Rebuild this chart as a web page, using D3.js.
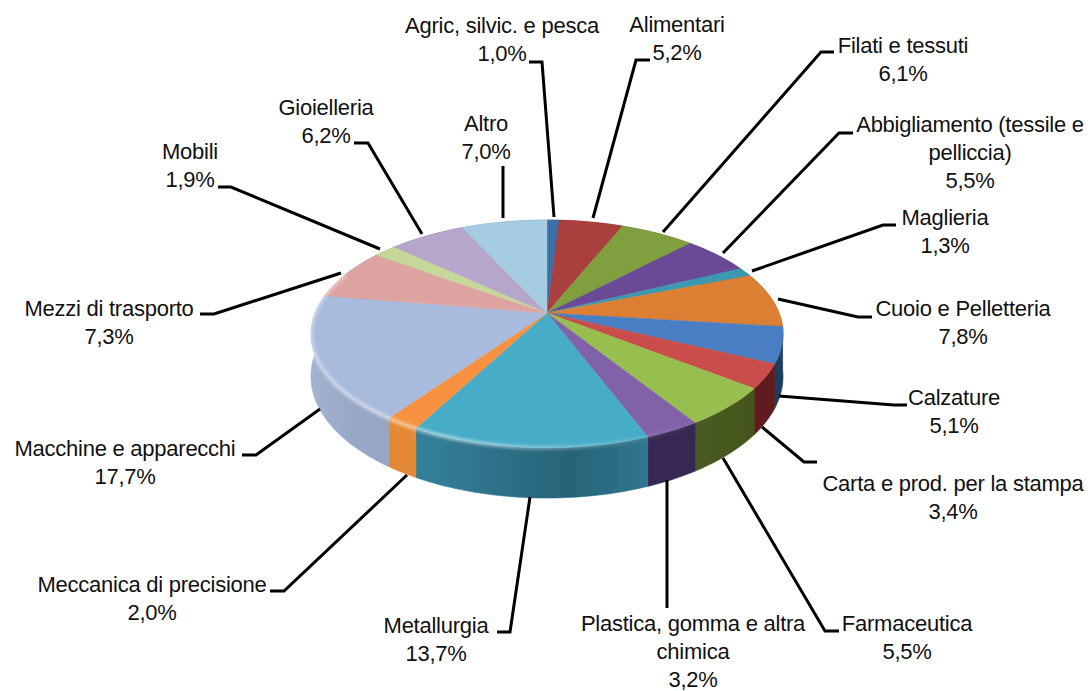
<!DOCTYPE html>
<html><head><meta charset="utf-8">
<style>html,body{margin:0;padding:0;background:#fff}svg{display:block}
text{font-family:"Liberation Sans",Arial,sans-serif;font-size:22px;fill:#111}</style>
<script src="https://cdnjs.cloudflare.com/ajax/libs/d3/7.8.5/d3.min.js"></script>
</head><body><svg id="c" width="1092" height="691"></svg>
<script>
const categories=["Agric, silvic. e pesca","Alimentari","Filati e tessuti","Abbigliamento (tessile e|pelliccia)","Maglieria","Cuoio e Pelletteria","Calzature","Carta e prod. per la stampa","Farmaceutica","Plastica, gomma e altra|chimica","Metallurgia","Meccanica di precisione","Macchine e apparecchi","Mezzi di trasporto","Mobili","Gioielleria","Altro"];
const values=[1.0,5.2,6.1,5.5,1.3,7.8,5.1,3.4,5.5,3.2,13.7,2.0,17.7,7.3,1.9,6.2,7.0];
const topColors=["#3A6FA8","#A93F3D","#80A03F","#6A4A96","#3C99B2","#DC7F30","#4A7EC2","#C94E4B","#98BE50","#8062A8","#47ACC8","#F69240","#A9BBDC","#DDA3A1","#C6D79A","#B6A6CC","#A5CCE0"];
const sideColors=["#2A4F78","#782C2A","#5A722C","#4B356B","#2B6D7F","#9C5A22","#23466F","#6E2220","#4F6323","#3B2B5A","#337F9A","#E88B35","#98A9CA","#9D7472","#8D9A6E","#826F92","#759AA8"];
// layout: label centre x, first line centre y
const labelX=[502,677,903,970,945,963,954,953,907,693,436,152,125,109,190,326,486];
const labelY=[25,24,45,124,217,308,397,483,623,623,625,584,448,308,151,107,123];
// leader polylines in page pixels
const leaders=[[[529,62],[542,62],[554,217]],[[650,60],[636,60],[593,218]],[[834,52],[821,52],[663,232]],[[853,133],[839,133],[723,253]],[[896,225],[883,225],[752,271]],[[872,317],[858,317],[778,299]],[[907,405],[894,405],[779,396]],[[817,462],[804,462],[762,427]],[[839,631],[825,631],[723,458]],[[667,608],[667,480]],[[497,632],[510,632],[530,497]],[[270,591],[284,591],[407,475]],[[242,455],[256,455],[320,409]],[[200,314],[214,314],[341,273]],[[218,187],[231,187],[380,249]],[[354,143],[368,143],[422,234]],[[503,166],[503,218]]];
const W=1092,H=691,cx=547,cy=313,a=232,b=110,k=0.184,drop=41;
const svg=d3.select("#c");
const defs=svg.append("defs");
const arcs=d3.pie().sort(null).value(d=>d)(values);
const px=(t,dz=0)=>{const u=Math.sin(t),v=-Math.cos(t),w=1-k*v;return [cx+a*u/w,cy+b*v/w+dz/w];};
const line=d3.line();
const samples=(s,e,dz)=>{const n=Math.max(2,Math.ceil((e-s)/0.02));return d3.range(n+1).map(i=>px(s+(e-s)*i/n,dz));};
defs.append("filter").attr("id","soft").attr("x","-5%").attr("y","-5%").attr("width","110%").attr("height","115%").append("feGaussianBlur").attr("stdDeviation",0.7);
defs.append("filter").attr("id","rimBlur").attr("filterUnits","userSpaceOnUse").attr("x",280).attr("y",200).attr("width",530).attr("height",320).append("feGaussianBlur").attr("stdDeviation",1.6);
const rg=defs.append("linearGradient").attr("id","rimGrad").attr("gradientUnits","userSpaceOnUse").attr("x1",310).attr("x2",790).attr("y1",0).attr("y2",0);
[[0,.42],[.3,.5],[.5,.3],[.72,.08],[.85,0]].forEach(s=>rg.append("stop").attr("offset",s[0]).attr("stop-color","#fff").attr("stop-opacity",s[1]));
const sg=defs.append("linearGradient").attr("id","sideGrad").attr("gradientUnits","userSpaceOnUse").attr("x1",310).attr("x2",790).attr("y1",0).attr("y2",0);
[[0,"#fff",.12],[.24,"#000",0],[.54,"#000",.22],[.72,"#000",.06],[1,"#000",.15]].forEach(s=>sg.append("stop").attr("offset",s[0]).attr("stop-color",s[1]).attr("stop-opacity",s[2]));
const pie=svg.append("g").attr("filter","url(#soft)");
const ribbon=d=>{const top=samples(d.startAngle,d.endAngle,0),bot=samples(d.startAngle,d.endAngle,drop).reverse();return line(top.concat(bot))+"Z";};
pie.selectAll("path.side").data(arcs).join("path").attr("class","side").attr("d",ribbon)
 .attr("fill",(d,i)=>sideColors[i]).attr("stroke",(d,i)=>sideColors[i]).attr("stroke-width",.6);
pie.append("path").attr("d",line(samples(Math.PI*0.4,Math.PI*1.6,0).concat(samples(Math.PI*0.4,Math.PI*1.6,drop).reverse()))+"Z").attr("fill","url(#sideGrad)");
pie.selectAll("path.top").data(arcs).join("path").attr("class","top")
 .attr("d",d=>line([[cx,cy]].concat(samples(d.startAngle,d.endAngle,0)))+"Z")
 .attr("fill",(d,i)=>topColors[i]).attr("stroke",(d,i)=>topColors[i]).attr("stroke-width",.5);
const frontStart=Math.PI*0.62,frontEnd=Math.PI*1.62;
pie.append("path").attr("d",line(samples(frontStart,frontEnd,0))).attr("fill","none")
 .attr("stroke","url(#rimGrad)").attr("stroke-width",4).attr("filter","url(#rimBlur)");
svg.append("g").selectAll("path").data(leaders).join("path").attr("d",d=>line(d))
 .attr("fill","none").attr("stroke","#000").attr("stroke-width",3).attr("stroke-linejoin","miter");
const fmt=v=>d3.format(".1f")(v).replace(".",",")+"%";
const labels=svg.append("g").selectAll("text").data(categories).join("text")
 .attr("text-anchor","middle").attr("letter-spacing",-0.25);
labels.each(function(c,i){
 const lines=c.split("|").concat(fmt(values[i]));
 d3.select(this).selectAll("tspan").data(lines).join("tspan")
  .attr("x",labelX[i]).attr("y",(d,j)=>labelY[i]+j*28.3).attr("dominant-baseline","central").text(d=>d);
});
</script></body></html>
